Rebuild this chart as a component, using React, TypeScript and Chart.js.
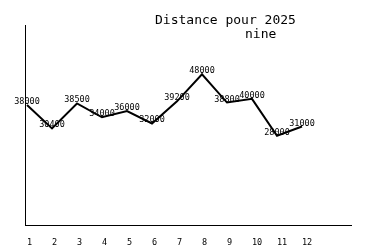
import React, { useEffect, useRef } from 'react';
import { Chart, registerables } from 'chart.js';

Chart.register(...registerables);

const months = [1, 2, 3, 4, 5, 6, 7, 8, 9, 10, 11, 12];
const distances = [38000, 30400, 38500, 34000, 36000, 32000, 39200, 48000, 38800, 40000, 28000, 31000];
const titleLines = ['Distance pour 2025', 'nine'];

const MONO = '"DejaVu Sans Mono", "Liberation Mono", monospace';

const titlePlugin = {
  id: 'customTitle',
  afterDraw(chart: any) {
    const { ctx, chartArea } = chart;
    ctx.save();
    ctx.fillStyle = '#000';
    ctx.font = `13px ${MONO}`;
    ctx.textAlign = 'left';
    ctx.textBaseline = 'alphabetic';
    ctx.fillText(titleLines[0], chartArea.left + 130, chartArea.top - 1);
    ctx.fillText(titleLines[1], chartArea.left + 220, chartArea.top + 13);
    ctx.restore();
  },
};

const labelPlugin = {
  id: 'pointLabels',
  afterDatasetsDraw(chart: any) {
    const { ctx } = chart;
    const meta = chart.getDatasetMeta(0);
    ctx.save();
    ctx.fillStyle = '#000';
    ctx.font = `8.5px ${MONO}`;
    ctx.textAlign = 'center';
    ctx.textBaseline = 'alphabetic';
    meta.data.forEach((el: any, i: number) => {
      ctx.fillText(String(distances[i]), el.x, el.y - 1);
    });
    ctx.restore();
  },
};

export default function App() {
  const ref = useRef<HTMLCanvasElement>(null);
  useEffect(() => {
    document.body.style.margin = '0';
    const chart = new Chart(ref.current!, {
      type: 'line',
      data: {
        datasets: [
          {
            data: months.map((m, i) => ({ x: m, y: distances[i] })),
            borderColor: '#000',
            borderWidth: 2,
            pointRadius: 0,
            tension: 0,
            fill: false,
          },
        ],
      },
      options: {
        animation: false,
        responsive: true,
        maintainAspectRatio: false,
        layout: { padding: { top: 25, left: 25, right: 24, bottom: 0 } },
        plugins: { legend: { display: false }, title: { display: false }, tooltip: { enabled: false } },
        scales: {
          x: {
            type: 'linear',
            min: 0.92,
            max: 13.96,
            afterBuildTicks: (s: any) => {
              s.ticks = months.map((v) => ({ value: v }));
            },
            afterFit: (s: any) => {
              s.height = 25;
            },
            grid: { display: false, drawTicks: false },
            border: { display: true, color: '#000', width: 1 },
            ticks: {
              autoSkip: false,
              maxRotation: 0,
              align: 'start',
              padding: 13,
              color: '#000',
              font: { family: MONO, size: 8.5 },
              callback: (v: any) => String(v),
            },
          },
          y: {
            type: 'linear',
            min: -1000,
            max: 64000,
            grid: { display: false, drawTicks: false },
            border: { display: true, color: '#000', width: 1 },
            ticks: { display: false },
          },
        },
      },
      plugins: [titlePlugin, labelPlugin],
    });
    return () => chart.destroy();
  }, []);
  return (
    <div style={{ width: 375, height: 250, position: 'relative' }}>
      <canvas ref={ref} />
    </div>
  );
}
